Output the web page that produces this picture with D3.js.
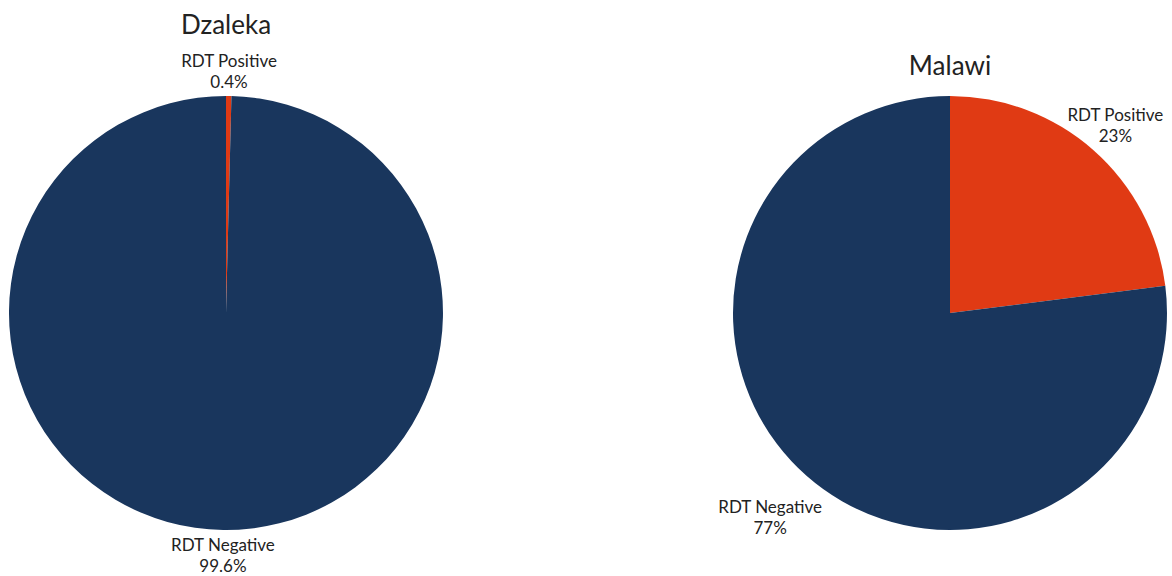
<!DOCTYPE html>
<html><head><meta charset="utf-8">
<script src="https://cdn.jsdelivr.net/npm/d3@7"></script>
<style>body{margin:0;background:#fff;} text{font-family:Lato, "Noto Sans", sans-serif;fill:#222;}</style>
</head><body>
<svg id="c" width="1172" height="576"></svg>
<script>
const charts = ["Dzaleka", "Malawi"];
const categories = ["RDT Positive", "RDT Negative"];
const dzalekaValues = [0.4, 99.6];
const malawiValues = [23, 77];
const valueLabels = [["0.4%", "99.6%"], ["23%", "77%"]];
const colors = ["#e03a14", "#19365d"];

const svg = d3.select("#c");
const layout = [
  {cx: 226, cy: 313, r: 217, titleY: 34, labelR: [242, 242]},
  {cx: 950, cy: 313, r: 217, titleY: 75, labelR: [250, 272]}
];
const allValues = [dzalekaValues, malawiValues];
const color = d3.scaleOrdinal().domain(categories).range(colors);
const pie = d3.pie().sort(null).value(d => d.v);

charts.forEach((name, i) => {
  const L = layout[i];
  const g = svg.append("g").attr("transform", `translate(${L.cx},${L.cy})`);
  const data = categories.map((c, j) => ({c, v: allValues[i][j], lab: valueLabels[i][j]}));
  const arcs = pie(data);
  const arc = d3.arc().innerRadius(0).outerRadius(L.r);
  g.selectAll("path").data(arcs).join("path").attr("d", arc).attr("fill", d => color(d.data.c));
  svg.append("text").attr("x", L.cx).attr("y", L.titleY).attr("text-anchor", "middle")
    .style("font-size", "26px").text(name);
  arcs.forEach((a, j) => {
    const m = (a.startAngle + a.endAngle) / 2;
    const R = L.labelR[j];
    const x = R * Math.sin(m), y = -R * Math.cos(m);
    const t = g.append("text").attr("text-anchor", "middle").style("font-size", "17px")
      .attr("transform", `translate(${x},${y})`);
    t.append("tspan").attr("x", 0).attr("y", -4).text(a.data.c);
    t.append("tspan").attr("x", 0).attr("y", 17).text(a.data.lab);
  });
});
</script>
</body></html>
